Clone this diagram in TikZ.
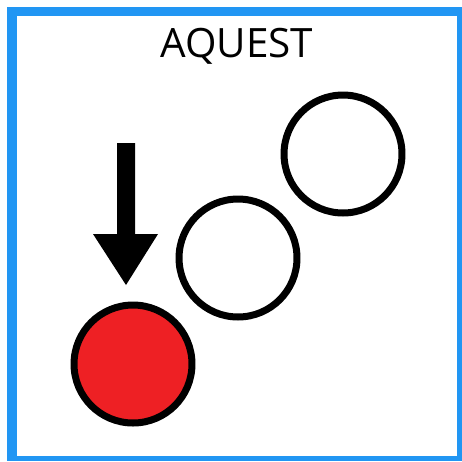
\documentclass[tikz,border=0pt]{standalone}
\usepackage{fontspec}
\setmainfont{Open Sans}
\usetikzlibrary{calc}

\definecolor{frameblue}{HTML}{2196F3}
\definecolor{ballred}{HTML}{EE2024}

\tikzset{
	ball/.style={circle, draw=black, line width=0.14cm, minimum size=2.36cm, inner sep=0pt},
}

\begin{document}
\begin{tikzpicture}[x=0.02cm,y=-0.02cm]
\useasboundingbox (0,0) rectangle (462,461);

%% cadre
\fill [frameblue] (7,7) rectangle (462,461);
\fill [white] (17,16) rectangle (457,456);

%% titre
\node [anchor=base, inner sep=0pt] (title) at (237,57) {\fontsize{23pt}{27pt}\selectfont AQUEST};

%% boules
\node [ball, fill=ballred] (b0) at (133,364) {};
\node [ball, fill=white] (b1) at (238,258) {};
\node [ball, fill=white] (b2) at (343,154) {};

%% fleche
\coordinate (tip) at (126,285);
\fill [black] (117,143)--(135,143)--(135,234)--(158,234)--(tip)--(93,234)--(117,234)--cycle;

\end{tikzpicture}
\end{document}
